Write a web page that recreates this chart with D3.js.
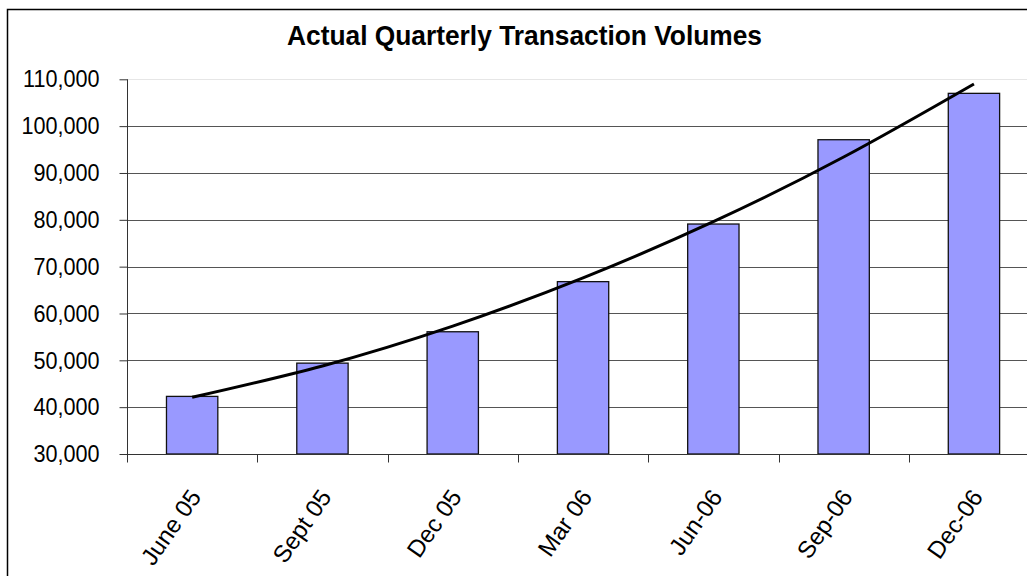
<!DOCTYPE html>
<html>
<head>
<meta charset="utf-8">
<script src="https://cdn.jsdelivr.net/npm/d3@7"></script>
<style>
  body { margin: 0; background: #fff; }
  svg { display: block; font-family: "Liberation Sans", Arial, sans-serif; }
</style>
</head>
<body>
<svg id="chart" width="1027" height="576"></svg>
<script>
// data
const quarters = ["June 05", "Sept 05", "Dec 05", "Mar 06", "Jun-06", "Sep-06", "Dec-06"];
const volumes = [42300, 49400, 56100, 66800, 79100, 97100, 107000];
const trend = [42100, 48800, 57300, 67600, 79600, 93400, 109000];
const yTicks = [30000, 40000, 50000, 60000, 70000, 80000, 90000, 100000, 110000];

const svg = d3.select("#chart");
const plotLeft = 127, plotTop = 79.3, plotBottom = 454, band = 130.3;

// frame round the whole chart
svg.append("rect")
  .attr("x", 7.5).attr("y", 9.5)
  .attr("width", 1200).attr("height", 800)
  .attr("fill", "none").attr("stroke", "#000").attr("stroke-width", 1.5);

const x = d3.scaleBand()
  .domain(quarters)
  .range([plotLeft, plotLeft + band * quarters.length])
  .paddingInner(0.606)
  .paddingOuter(0.303);

const y = d3.scaleLinear().domain([30000, 110000]).range([plotBottom, plotTop]);

// gridlines
svg.append("g")
  .selectAll("line")
  .data(yTicks.slice(1))
  .enter()
  .append("line")
  .attr("x1", plotLeft).attr("x2", 1027)
  .attr("y1", d => Math.round(y(d)) + 0.5)
  .attr("y2", d => Math.round(y(d)) + 0.5)
  .attr("stroke", d => d == 110000 ? "#e6e6e6" : "#555")
  .attr("stroke-width", 1);

// bars
svg.append("g")
  .selectAll("rect")
  .data(volumes)
  .enter()
  .append("rect")
  .attr("x", (d, i) => x(quarters[i]))
  .attr("y", d => y(d))
  .attr("width", x.bandwidth())
  .attr("height", d => plotBottom - y(d))
  .attr("fill", "#9999ff")
  .attr("stroke", "#111")
  .attr("stroke-width", 1.3);

// trend line
const line = d3.line()
  .x((d, i) => x(quarters[i]) + x.bandwidth() / 2)
  .y(d => y(d))
  .curve(d3.curveNatural);

svg.append("path")
  .datum(trend)
  .attr("d", line)
  .attr("fill", "none")
  .attr("stroke", "#000")
  .attr("stroke-width", 3);

// y axis
const yAxis = svg.append("g")
  .attr("transform", "translate(" + (plotLeft + 0.5) + ",0)")
  .call(d3.axisLeft(y).tickValues(yTicks).tickSize(8).tickPadding(20)
    .tickFormat(d3.format(",")));
yAxis.select(".domain").attr("stroke", "#333").attr("d", "M0," + plotTop + "V" + plotBottom);
yAxis.selectAll(".tick line").attr("stroke", "#333");
yAxis.selectAll("text")
  .attr("fill", "#000")
  .style("font-size", "24px");

// x axis
const xAxis = svg.append("g")
  .attr("transform", "translate(0," + (plotBottom + 0.5) + ")");
xAxis.append("line")
  .attr("x1", plotLeft).attr("x2", 1027)
  .attr("stroke", "#333");
xAxis.selectAll(".xtick")
  .data(quarters.concat([""]))
  .enter()
  .append("line")
  .attr("class", "xtick")
  .attr("x1", (d, i) => Math.round(plotLeft + i * band) + 0.5)
  .attr("x2", (d, i) => Math.round(plotLeft + i * band) + 0.5)
  .attr("y1", 0).attr("y2", 8)
  .attr("stroke", "#333");

svg.append("g")
  .selectAll("text")
  .data(quarters)
  .enter()
  .append("text")
  .attr("transform", d => "translate(" + (x(d) + x.bandwidth() / 2 + 10) + ",497) rotate(-55)")
  .attr("text-anchor", "end")
  .style("font-size", "24px")
  .text(d => d);

// title
svg.append("text")
  .attr("class", "title")
  .attr("x", 524.5).attr("y", 45)
  .attr("text-anchor", "middle")
  .style("font-size", "28px")
  .style("font-weight", "bold")
  .text("Actual Quarterly Transaction Volumes");

// the reference text is a bit narrow, squeeze it
svg.select(".title").attr("textLength", 475).attr("lengthAdjust", "spacingAndGlyphs");
yAxis.selectAll("text").each(function () {
  const w = this.getComputedTextLength();
  d3.select(this).attr("textLength", w * 0.9).attr("lengthAdjust", "spacingAndGlyphs");
});
</script>
</body>
</html>
